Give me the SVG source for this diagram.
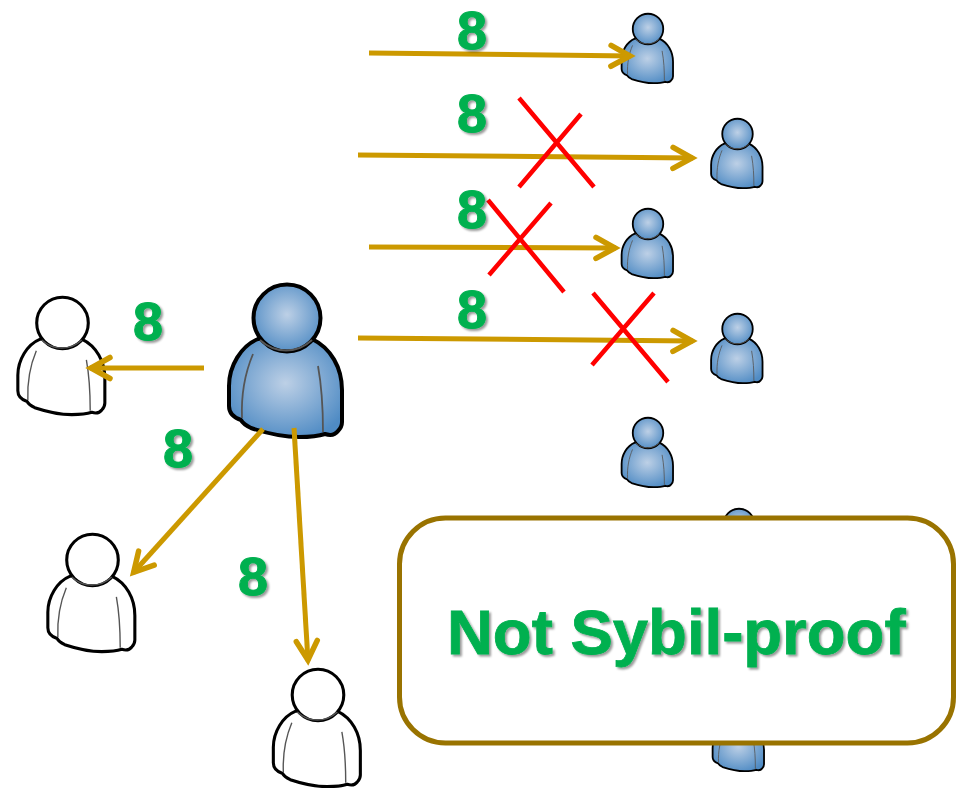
<svg xmlns="http://www.w3.org/2000/svg" width="961" height="788" viewBox="0 0 961 788">
  <style>
    .arrow{fill:none;stroke:#CC9900;stroke-width:5;marker-end:url(#chev)}
    .cross{fill:none;stroke:#FF0000;stroke-width:4.5}
    .num{font:bold 54px "Liberation Sans",Arial,sans-serif;fill:#00B050;stroke:#00B050;stroke-width:1;text-anchor:middle;filter:url(#shadow)}
    .title{font:bold 63.5px "Liberation Sans",Arial,sans-serif;fill:#00B050;stroke:#00B050;stroke-width:.8;filter:url(#shadow)}
    .blue{fill:url(#skin)}
    .white{fill:#fff}
    .b,.h{stroke:#000;stroke-width:4;stroke-linejoin:round}
    .n{fill:none;stroke:#555;stroke-width:2}
    .i{fill:none;stroke:#555;stroke-width:1.8}
  </style>
  <defs>
    <radialGradient id="skin" cx="50%" cy="45%" r="60%">
      <stop offset="0" stop-color="#BDD0E6"/>
      <stop offset="1" stop-color="#4F8BC4"/>
    </radialGradient>
    <filter id="shadow" x="-10%" y="-10%" width="120%" height="130%">
      <feDropShadow dx="2" dy="2" stdDeviation="1.2" flood-color="#000" flood-opacity="0.4"/>
    </filter>
    <marker id="chev" markerUnits="userSpaceOnUse" viewBox="-28 -14 32 28" refX="0" refY="0" markerWidth="32" markerHeight="28" orient="auto" overflow="visible">
      <path d="M-20,-10.5 L-1,0 L-20,10.5" fill="none" stroke="#CC9900" stroke-width="5.5" stroke-linecap="round" stroke-linejoin="miter"/>
    </marker>
    <g id="person">
      <path class="b" d="M-29,21 C-46,28 -58,48 -58,68 L-58,88 C-58,96 -52,100 -46,102 C-44,106 -40,108 -36,110 C-18,116 0,119 12,119 C22,119 32,118 38,116 C44,118 48,117 51,113 C54,110 55,108 55,104 L55,72 C55,50 44,30 25,21 Z"/>
      <circle class="h" cx="0" cy="0" r="33.5"/>
      <path class="n" d="M-27,22 C-12,36 10,36 25,22"/>
      <path class="i" d="M-34,36 C-42,55 -46,75 -45,100"/>
      <path class="i" d="M31,48 C35,70 36,90 36,114"/>
    </g>
  </defs>
  <rect width="961" height="788" fill="#fff"/>
  <g id="node-recipient-1" class="blue"><use href="#person" transform="translate(648,29) scale(.455)"/></g>
  <g id="node-recipient-2" class="blue"><use href="#person" transform="translate(737.5,134) scale(.455)"/></g>
  <g id="node-recipient-3" class="blue"><use href="#person" transform="translate(648,224) scale(.455)"/></g>
  <g id="node-recipient-4" class="blue"><use href="#person" transform="translate(737.5,329) scale(.455)"/></g>
  <g id="node-recipient-5" class="blue"><use href="#person" transform="translate(648,433) scale(.455)"/></g>
  <g id="node-recipient-6" class="blue"><use href="#person" transform="translate(739,524) scale(.455)"/></g>
  <g id="node-recipient-7" class="blue"><use href="#person" transform="translate(739,717) scale(.455)"/></g>
  <g id="node-sender" class="blue"><use href="#person" transform="translate(287,318)"/></g>
  <g id="node-white-1" class="white"><use href="#person" transform="translate(62.5,323) scale(.77)"/></g>
  <g id="node-white-2" class="white"><use href="#person" transform="translate(92.5,560) scale(.77)"/></g>
  <g id="node-white-3" class="white"><use href="#person" transform="translate(318,695) scale(.77)"/></g>
  <g id="connectors">
    <line class="arrow" x1="369" y1="53" x2="631" y2="56"/>
    <line class="arrow" x1="358" y1="155" x2="693" y2="158"/>
    <line class="arrow" x1="369" y1="247" x2="616" y2="248"/>
    <line class="arrow" x1="358" y1="338" x2="693" y2="341"/>
    <line class="arrow" x1="204" y1="368" x2="90" y2="368"/>
    <line class="arrow" x1="263" y1="429" x2="133" y2="573"/>
    <line class="arrow" x1="294" y1="428" x2="308" y2="661"/>
  </g>
  <g id="crosses">
    <path class="cross" d="M519,98 L594,187 M581,114 L519,187"/>
    <path class="cross" d="M488,200 L564,292 M551,203 L489,275"/>
    <path class="cross" d="M593,293 L668,382 M654,293 L592,365"/>
  </g>
  <g id="labels">
    <text class="num" x="472" y="49">8</text>
    <text class="num" x="472" y="132">8</text>
    <text class="num" x="472" y="228">8</text>
    <text class="num" x="472" y="328">8</text>
    <text class="num" x="148" y="340">8</text>
    <text class="num" x="178" y="467">8</text>
    <text class="num" x="253" y="595">8</text>
  </g>
  <g id="node-callout">
    <rect x="399.5" y="518" width="554" height="225" rx="46" fill="#fff" stroke="#997300" stroke-width="5"/>
    <text class="title" x="447" y="654">Not Sybil-proof</text>
  </g>
</svg>
